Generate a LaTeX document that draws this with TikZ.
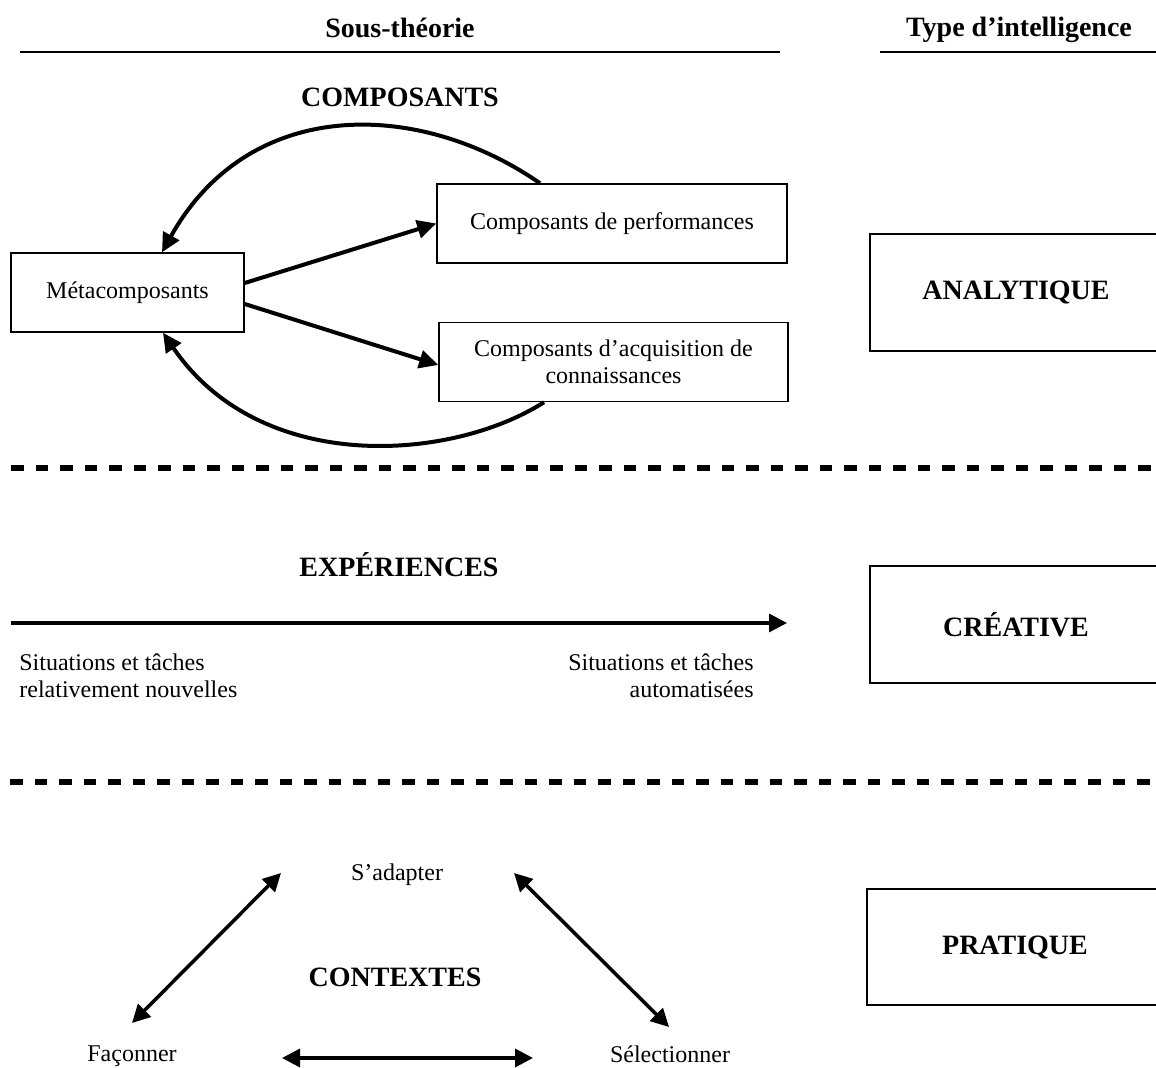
\documentclass[tikz,border=0pt]{standalone}
\usepackage{fontspec}
\setmainfont{Liberation Serif}
\usepackage{tikz}
\usetikzlibrary{arrows.meta,calc}

\begin{document}
\begin{tikzpicture}[x=0.5pt,y=-0.5pt,
  txt/.style={font=\fontsize{12}{13.5}\selectfont,inner sep=1pt},
  head/.style={font=\fontsize{14}{16}\selectfont\bfseries,inner sep=1pt},
  comp/.style={draw,line width=0.75pt,txt,align=center,minimum height=39.5pt},
  type/.style={draw,line width=0.8pt,head,minimum width=146pt,minimum height=58.5pt},
  arr/.style={line width=2pt,-{Triangle[length=9.5pt,width=9pt]}},
  darr/.style={line width=1.75pt,{Triangle[length=9pt,width=9pt]}-{Triangle[length=9pt,width=9pt]}},
  sep/.style={line width=3pt,dash pattern=on 6.25pt off 6pt},
  rule/.style={line width=1.2pt}]
  \useasboundingbox (0,0) rectangle (1156,1068);
  % titres
  \node[head] (sous) at (400,28) {Sous-théorie};
  \node[head] (type) at (1019,30) {Type d’intelligence};
  \draw[rule] (20,52) -- (780,52);
  \draw[rule] (880,52) -- (1160,52);
  % composants
  \node[head] (compo) at (400,97) {COMPOSANTS};
  \node[comp,minimum width=116.5pt] (meta) at (127.5,292.5) {Métacomposants};
  \node[comp,minimum width=175pt] (perf) at (612,223.5) {Composants de performances};
  \node[comp,minimum width=174.5pt] (acq) at (613.5,362) {Composants d’acquisition de\\connaissances};
  \node[type] (ana) at (1016,292.5) {ANALYTIQUE};
  \draw[arr] ($(meta.east)+(0,-9.5)$) -- (perf.west);
  \draw[arr] ($(meta.east)+(0,11.5)$) -- ($(acq.west)+(0,3)$);
  \draw[arr] ($(perf.north)+(-72,0)$) .. controls (420,100) and (250,95) .. ($(meta.north)+(34.5,0)$);
  \draw[arr] ($(acq.south)+(-69.5,0)$) .. controls (450,462) and (260,475) .. ($(meta.south)+(35.5,0)$);
  \draw[sep] (11,468.5) -- (1160,468.5);
  % experiences
  \node[head] (exp) at (399,565) {EXPÉRIENCES};
  \coordinate (nouv) at (11,623);
  \coordinate (auto) at (787,623);
  \draw[line width=1.7pt,-{Triangle[length=9pt,width=9pt]}] (nouv) -- (auto);
  \node[txt,align=left,anchor=west] (sit1) at (17,676) {Situations et tâches\\relativement nouvelles};
  \node[txt,align=right,anchor=east] (sit2) at (756,676) {Situations et tâches\\automatisées};
  \node[type] (crea) at (1016,624.5) {CRÉATIVE};
  \draw[sep] (10,781.5) -- (1160,781.5);
  % contextes
  \node[txt] (adapt) at (397,875) {S’adapter};
  \node[txt] (fac) at (132,1056) {Façonner};
  \node[txt] (sel) at (670,1054) {Sélectionner};
  \node[head] (ctx) at (395,977) {CONTEXTES};
  \node[type,minimum width=148pt,minimum height=58pt] (prat) at (1015,947) {PRATIQUE};
  \draw[darr] ($(fac)+(0,-33)$) -- ($(adapt)+(-116,-2)$);
  \draw[darr] ($(adapt)+(117,-2)$) -- ($(sel)+(-1,-27)$);
  \draw[darr] ($(fac)+(150,2)$) -- ($(sel)+(-137,4)$);
\end{tikzpicture}
\end{document}
